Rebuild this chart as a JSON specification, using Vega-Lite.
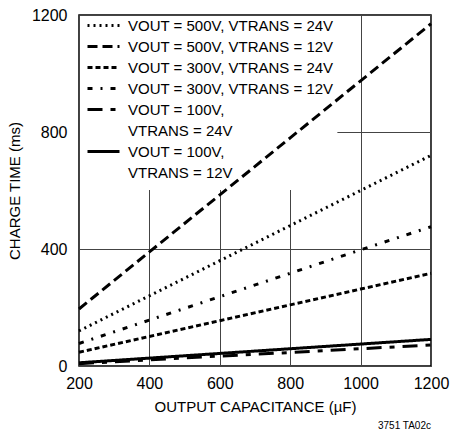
{
  "$schema": "https://vega.github.io/schema/vega-lite/v6.json",
  "width": 352,
  "height": 351,
  "autosize": {"type": "none"},
  "padding": {"left": 79, "top": 15, "right": 28, "bottom": 67},
  "background": "white",
  "title": {"text": "3751 TA02c", "orient": "bottom", "anchor": "end", "frame": "group", "fontSize": 10, "fontWeight": "normal", "font": "Liberation Sans", "color": "black", "offset": 7},
  "config": {
    "font": "Liberation Sans",
    "view": {"stroke": "black", "strokeWidth": 1.5},
    "axis": {
      "grid": true,
      "gridColor": "#444444",
      "gridWidth": 1,
      "gridOpacity": 1,
      "domain": false,
      "ticks": false,
      "labelFlush": false,
      "labelFont": "Liberation Sans",
      "labelFontSize": 16,
      "labelColor": "black",
      "titleFont": "Liberation Sans",
      "titleFontSize": 15,
      "titleFontWeight": "normal",
      "titleColor": "black"
    }
  },
  "data": {
    "values": [
      {"cap": 200, "t": 120, "series": "VOUT = 500V, VTRANS = 24V"},
      {"cap": 400, "t": 240, "series": "VOUT = 500V, VTRANS = 24V"},
      {"cap": 600, "t": 360, "series": "VOUT = 500V, VTRANS = 24V"},
      {"cap": 800, "t": 480, "series": "VOUT = 500V, VTRANS = 24V"},
      {"cap": 1000, "t": 600, "series": "VOUT = 500V, VTRANS = 24V"},
      {"cap": 1200, "t": 720, "series": "VOUT = 500V, VTRANS = 24V"},
      {"cap": 200, "t": 195, "series": "VOUT = 500V, VTRANS = 12V"},
      {"cap": 400, "t": 390, "series": "VOUT = 500V, VTRANS = 12V"},
      {"cap": 600, "t": 585, "series": "VOUT = 500V, VTRANS = 12V"},
      {"cap": 800, "t": 780, "series": "VOUT = 500V, VTRANS = 12V"},
      {"cap": 1000, "t": 975, "series": "VOUT = 500V, VTRANS = 12V"},
      {"cap": 1200, "t": 1170, "series": "VOUT = 500V, VTRANS = 12V"},
      {"cap": 200, "t": 47, "series": "VOUT = 300V, VTRANS = 24V"},
      {"cap": 400, "t": 101, "series": "VOUT = 300V, VTRANS = 24V"},
      {"cap": 600, "t": 155, "series": "VOUT = 300V, VTRANS = 24V"},
      {"cap": 800, "t": 209, "series": "VOUT = 300V, VTRANS = 24V"},
      {"cap": 1000, "t": 263, "series": "VOUT = 300V, VTRANS = 24V"},
      {"cap": 1200, "t": 317, "series": "VOUT = 300V, VTRANS = 24V"},
      {"cap": 200, "t": 77, "series": "VOUT = 300V, VTRANS = 12V"},
      {"cap": 400, "t": 157, "series": "VOUT = 300V, VTRANS = 12V"},
      {"cap": 600, "t": 237, "series": "VOUT = 300V, VTRANS = 12V"},
      {"cap": 800, "t": 317, "series": "VOUT = 300V, VTRANS = 12V"},
      {"cap": 1000, "t": 397, "series": "VOUT = 300V, VTRANS = 12V"},
      {"cap": 1200, "t": 476, "series": "VOUT = 300V, VTRANS = 12V"},
      {"cap": 200, "t": 8, "series": "VOUT = 100V, VTRANS = 24V"},
      {"cap": 400, "t": 21, "series": "VOUT = 100V, VTRANS = 24V"},
      {"cap": 600, "t": 34, "series": "VOUT = 100V, VTRANS = 24V"},
      {"cap": 800, "t": 46, "series": "VOUT = 100V, VTRANS = 24V"},
      {"cap": 1000, "t": 59, "series": "VOUT = 100V, VTRANS = 24V"},
      {"cap": 1200, "t": 72, "series": "VOUT = 100V, VTRANS = 24V"},
      {"cap": 200, "t": 11, "series": "VOUT = 100V, VTRANS = 12V"},
      {"cap": 400, "t": 27, "series": "VOUT = 100V, VTRANS = 12V"},
      {"cap": 600, "t": 43, "series": "VOUT = 100V, VTRANS = 12V"},
      {"cap": 800, "t": 59, "series": "VOUT = 100V, VTRANS = 12V"},
      {"cap": 1000, "t": 75, "series": "VOUT = 100V, VTRANS = 12V"},
      {"cap": 1200, "t": 91, "series": "VOUT = 100V, VTRANS = 12V"}
    ]
  },
  "layer": [
    {
      "mark": {"type": "rect", "fill": "white"},
      "encoding": {
        "x": {"datum": 204, "type": "quantitative"},
        "x2": {"datum": 933},
        "y": {"datum": 602, "type": "quantitative"},
        "y2": {"datum": 1194}
      }
    },
    {
      "mark": {"type": "line", "color": "black", "strokeWidth": 3},
      "encoding": {
        "x": {
          "field": "cap",
          "type": "quantitative",
          "scale": {"domain": [200, 1200], "nice": false, "zero": false},
          "axis": {"values": [200, 400, 600, 800, 1000, 1200], "format": "d", "title": "OUTPUT CAPACITANCE (µF)", "labelPadding": 9, "titlePadding": 8}
        },
        "y": {
          "field": "t",
          "type": "quantitative",
          "scale": {"domain": [0, 1200], "nice": false},
          "axis": {"values": [0, 400, 800, 1200], "format": "d", "title": "CHARGE TIME (ms)", "labelPadding": 12, "titlePadding": 9}
        },
        "strokeDash": {
          "field": "series",
          "type": "nominal",
          "scale": {
            "domain": [
              "VOUT = 500V, VTRANS = 24V",
              "VOUT = 500V, VTRANS = 12V",
              "VOUT = 300V, VTRANS = 24V",
              "VOUT = 300V, VTRANS = 12V",
              "VOUT = 100V, VTRANS = 24V",
              "sp24",
              "VOUT = 100V, VTRANS = 12V",
              "sp12"
            ],
            "range": [[2, 4], [10, 5], [5, 3], [5, 8, 2, 8], [15, 8, 5, 8], [0, 100], [1, 0], [0, 100]]
          },
          "legend": {
            "orient": "none",
            "legendX": 15,
            "legendY": 1,
            "title": null,
            "padding": 0,
            "symbolType": "M-2,0H2",
            "symbolSize": 256,
            "symbolStrokeWidth": 3,
            "symbolStrokeColor": "black",
            "labelFont": "Liberation Sans",
            "labelFontSize": 15,
            "labelColor": "black",
            "labelOffset": 15,
            "labelLimit": 400,
            "rowPadding": 3,
            "labelExpr": "datum.label == 'sp24' ? 'VTRANS = 24V' : datum.label == 'sp12' ? 'VTRANS = 12V' : indexof(datum.label, '100V') >= 0 ? 'VOUT = 100V,' : datum.label"
          }
        }
      }
    }
  ]
}
